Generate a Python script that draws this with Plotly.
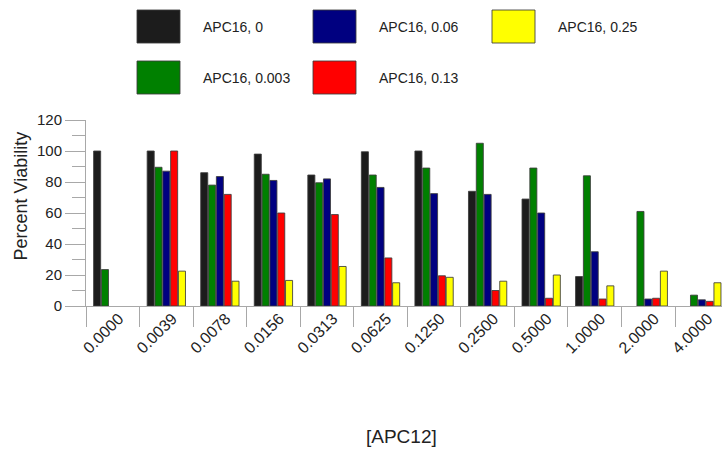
import plotly.graph_objects as go

categories = ['0.0000', '0.0039', '0.0078', '0.0156', '0.0313', '0.0625',
              '0.1250', '0.2500', '0.5000', '1.0000', '2.0000', '4.0000']
apc16_0 = [100, 100, 86, 98, 84.5, 99.5, 100, 74, 69, 19, None, None]
apc16_0003 = [23.5, 89.5, 78, 85, 79.5, 84.5, 89, 105, 89, 84, 61, 7]
apc16_006 = [None, 87, 83.5, 81, 82, 76.5, 72.5, 72, 60, 35, 4.5, 4]
apc16_013 = [None, 100, 72, 60, 59, 31, 19.5, 10, 5, 4.5, 5, 3]
apc16_025 = [None, 22.5, 16, 16.5, 25.5, 15, 18.5, 16, 20, 13, 22.5, 15]

series = [
    ('APC16, 0', apc16_0, '#1c1c1c'),
    ('APC16, 0.003', apc16_0003, '#008000'),
    ('APC16, 0.06', apc16_006, '#000080'),
    ('APC16, 0.13', apc16_013, '#ff0000'),
    ('APC16, 0.25', apc16_025, '#ffff00'),
]

W, H = 722, 450
L, R, T, B = 86, 0, 120, 144
PW, PH = W - L - R, H - T - B

fig = go.Figure()
for name, vals, col in series:
    fig.add_trace(go.Bar(x=categories, y=vals, name=name, showlegend=False,
                         marker=dict(color=col, line=dict(color='rgba(60,60,60,0.85)', width=1))))

cat_w = 53.55
x_end = -0.5 + PW / cat_w

FONT = 'Liberation Sans, Arial, sans-serif'

def px(x):
    return (x - L) / PW

def py(y):
    return (H - B - y) / PH

# Manual legend (large swatches, 3 columns x 2 rows)
legend_layout = [
    ('APC16, 0', '#1c1c1c', 137, 10),
    ('APC16, 0.003', '#008000', 137, 61),
    ('APC16, 0.06', '#000080', 313, 10),
    ('APC16, 0.13', '#ff0000', 313, 61),
    ('APC16, 0.25', '#ffff00', 492, 10),
]
shapes = []
annotations = []
for name, col, x0, y0 in legend_layout:
    shapes.append(dict(type='rect', xref='paper', yref='paper',
                       x0=px(x0), x1=px(x0 + 43), y0=py(y0 + 33), y1=py(y0),
                       fillcolor=col, line=dict(color='rgba(60,60,60,0.85)', width=1)))
    annotations.append(dict(text=name, xref='paper', yref='paper', x=px(x0 + 64), y=py(y0 + 16.5),
                            xanchor='left', yanchor='middle', showarrow=False,
                            font=dict(family=FONT, size=14, color='#222')))

annotations.append(dict(text='Percent Viability', xref='paper', yref='paper',
                        x=px(20), y=py(196.5), textangle=-90, showarrow=False,
                        xanchor='center', yanchor='middle',
                        font=dict(family=FONT, size=18, color='#222')))
annotations.append(dict(text='[APC12]', xref='paper', yref='paper',
                        x=px(401), y=py(436), showarrow=False,
                        xanchor='center', yanchor='middle',
                        font=dict(family=FONT, size=19, color='#222')))

fig.update_layout(
    width=W, height=H,
    margin=dict(l=L, r=R, t=T, b=B, autoexpand=False),
    paper_bgcolor='white', plot_bgcolor='white',
    barmode='group', bargap=0.27, bargroupgap=0.1,
    font=dict(family=FONT, color='#222'),
    shapes=shapes, annotations=annotations,
    xaxis=dict(type='category', range=[-0.5, x_end], showgrid=False, zeroline=False,
               showline=True, linecolor='#a8a8a8', linewidth=1,
               ticks='outside', tickson='boundaries', ticklen=20, tickcolor='#a8a8a8',
               tickangle=-45, tickfont=dict(family=FONT, size=16, color='#222'),
               ticklabelstandoff=-4, ticklabelshift=6),
    yaxis=dict(range=[0, 120], dtick=20, showgrid=False, zeroline=False,
               showline=True, linecolor='#a8a8a8', linewidth=1,
               ticks='outside', ticklen=20, tickcolor='#a8a8a8',
               tickfont=dict(family=FONT, size=15, color='#222'),
               minor=dict(dtick=10, ticks='outside', ticklen=13, tickcolor='#a8a8a8', showgrid=False)),
)

fig.write_html('out.html')
